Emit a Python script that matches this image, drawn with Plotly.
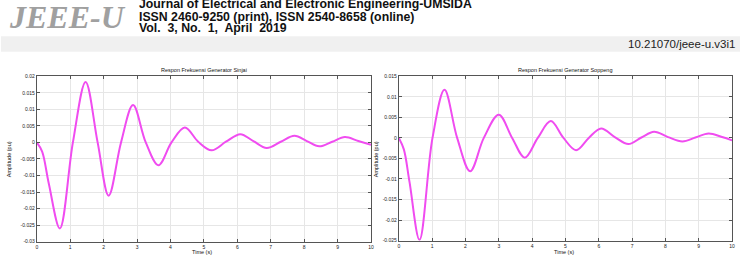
import plotly.graph_objects as go

W, H = 743, 258

# ---- data ----
t_sinjai = [0, 0.16, 0.36, 0.69, 1.08, 1.46, 1.82, 2.15, 2.52, 2.88, 3.26, 3.64,
            4.03, 4.43, 4.83, 5.23, 5.66, 6.09, 6.48, 6.88, 7.3, 7.71, 8.08, 8.45, 8.84, 9.22, 9.62, 10]
v_sinjai = [0, -0.0028, -0.0125, -0.026, 0, 0.0183, 0, -0.0161, 0, 0.0113, 0, -0.0069,
            0, 0.0045, 0.0002, -0.0024, 0.0002, 0.0025, 0.0004, -0.0017, 0.0002, 0.0020, 0.0004, -0.0012, 0.0002, 0.0016, 0.0004, -0.0007]

t_soppeng = [0, 0.15, 0.32, 0.62, 1.01, 1.37, 1.75, 2.14, 2.55, 3.0, 3.4, 3.78,
             4.17, 4.56, 4.94, 5.32, 5.7, 6.07, 6.48, 6.89, 7.28, 7.66, 8.08, 8.51, 8.9, 9.3, 9.7, 10]
v_soppeng = [0, -0.0028, -0.0107, -0.0248, 0, 0.0117, 0, -0.0081, 0, 0.00565, 0, -0.0048,
             0, 0.0041, 0, -0.0030, 0, 0.0023, 0.0002, -0.0015, 0.0001, 0.0015, 0.0002, -0.00085, 0.0001, 0.0011, 0.0002, -0.0006]

x_ticks = list(range(0, 11))
y_ticks_sinjai = [0.02, 0.015, 0.01, 0.005, 0, -0.005, -0.01, -0.015, -0.02, -0.025, -0.03]
y_text_sinjai = ["0.02", "0.015", "0.01", "0.005", "0", "-0.005", "-0.01", "-0.015", "-0.02", "-0.025", "-0.03"]
y_ticks_soppeng = [0.015, 0.01, 0.005, 0, -0.005, -0.01, -0.015, -0.02, -0.025]
y_text_soppeng = ["0.015", "0.01", "0.005", "0", "-0.005", "-0.01", "-0.015", "-0.02", "-0.025"]

title_sinjai = "Respon Frekuensi Generator Sinjai"
title_soppeng = "Respon Frekuensi Generator Soppeng"

LINE = "#f04cf0"


def px(x):
    return x / W


def py(y):
    return 1 - y / H


fig = go.Figure()
fig.add_trace(go.Scatter(x=t_sinjai, y=v_sinjai, mode="lines", xaxis="x", yaxis="y",
                         line=dict(color=LINE, width=2, shape="spline", smoothing=1.0),
                         showlegend=False, hoverinfo="skip"))
fig.add_trace(go.Scatter(x=t_soppeng, y=v_soppeng, mode="lines", xaxis="x2", yaxis="y2",
                         line=dict(color=LINE, width=2, shape="spline", smoothing=1.0),
                         showlegend=False, hoverinfo="skip"))

axcommon = dict(showline=True, linecolor="#555", linewidth=1, mirror="ticks", ticks="inside",
                ticklen=3, tickcolor="#555", showgrid=True, gridcolor="#e6e6e6", gridwidth=1,
                zeroline=False, tickfont=dict(family="Liberation Sans", size=5, color="#222"),
                fixedrange=True)

fig.update_layout(
    width=W, height=H, margin=dict(l=0, r=0, t=0, b=0),
    paper_bgcolor="white", plot_bgcolor="white",
    xaxis=dict(domain=[px(36), px(372)], range=[0, 10], tickvals=x_ticks, anchor="y", **axcommon),
    yaxis=dict(domain=[py(244.3), py(75)], range=[-0.03, 0.02], tickvals=y_ticks_sinjai,
               ticktext=y_text_sinjai, anchor="x", **axcommon),
    xaxis2=dict(domain=[px(400), px(735)], range=[0, 10], tickvals=x_ticks, anchor="y2", **axcommon),
    yaxis2=dict(domain=[py(243.3), py(75)], range=[-0.025, 0.015], tickvals=y_ticks_soppeng,
                ticktext=y_text_soppeng, anchor="x2", **axcommon),
)

# header grey band
fig.add_shape(type="rect", xref="paper", yref="paper", x0=0, x1=1, y0=py(50), y1=py(34),
              fillcolor="#f0f0f0", line=dict(width=0), layer="below")

ann = []


def txt(text, x, y, size, xanchor="left", color="#111", family="Liberation Sans", angle=0, yanchor="middle"):
    ann.append(dict(text=text, x=px(x), y=py(y), xref="paper", yref="paper", showarrow=False,
                    xanchor=xanchor, yanchor=yanchor, textangle=angle,
                    font=dict(size=size, color=color, family=family)))


txt("<b><i>JEEE-U</i></b>", 6, 14, 32, color="#a0a0a0", family="Liberation Serif")
txt("<b>Journal of Electrical and Electronic Engineering-UMSIDA</b>", 137, 1.5, 12.3)
txt("<b>ISSN 2460-9250 (print), ISSN 2540-8658 (online)</b>", 137, 14.5, 12.3)
txt("<b>Vol.  3, No.  1,  April  2019</b>", 137, 25.5, 12.3)
txt("10.21070/jeee-u.v3i1", 740, 42, 11.5, xanchor="right", color="#222")

txt(title_sinjai, 204, 68.5, 5.5, xanchor="center")
txt(title_soppeng, 567, 68.5, 5.5, xanchor="center")
txt("Time (s)", 202, 255, 5.5, xanchor="center")
txt("Time (s)", 566, 255, 5.5, xanchor="center")
txt("Amplitude (pu)", 8, 160, 5.5, xanchor="center", angle=-90)
txt("Amplitude (pu)", 377, 160, 5.5, xanchor="center", angle=-90)

fig.update_layout(annotations=ann)
fig.write_html("out.html")
